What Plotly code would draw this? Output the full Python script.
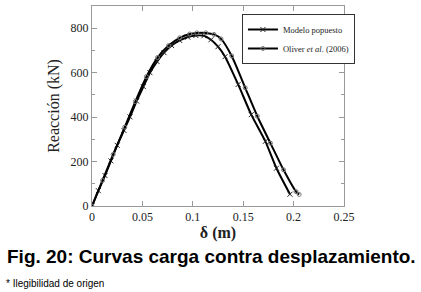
import plotly.graph_objects as go

# Modelo propuesto (x markers)
d_modelo = [0, 0.0063, 0.0129, 0.0188, 0.025, 0.0317, 0.0377, 0.0443, 0.051, 0.0575,
            0.0645, 0.0715, 0.079, 0.087, 0.095, 0.103, 0.111, 0.118, 0.125, 0.132,
            0.145, 0.158, 0.172, 0.183, 0.1964]
r_modelo = [0, 69, 137, 203, 273, 340, 401, 472, 537, 600,
            650, 690, 722, 745, 760, 767, 766, 748, 717, 672,
            547, 411, 291, 170, 53]

# Oliver et al. (2006) (circle markers)
d_oliver = [0, 0.0105, 0.021, 0.0325, 0.043, 0.054, 0.065, 0.076, 0.087, 0.097,
            0.104, 0.113, 0.121, 0.128, 0.1386, 0.152, 0.164, 0.177, 0.190, 0.2024, 0.2055]
r_oliver = [0, 115, 232, 355, 470, 582, 668, 722, 757, 774,
            779, 779, 772, 752, 675, 532, 404, 283, 163, 65, 52]

x_ticks = [0, 0.05, 0.1, 0.15, 0.2, 0.25]
x_ticklabels = ["0", "0.05", "0.1", "0.15", "0.2", "0.25"]
y_ticks = [0, 200, 400, 600, 800]

serif = "Liberation Serif, Times New Roman, serif"
sans = "Liberation Sans, Arial, sans-serif"

fig = go.Figure()
fig.add_trace(go.Scatter(
    x=d_modelo, y=r_modelo, mode="lines+markers", name="Modelo popuesto",
    line=dict(color="black", width=2, shape="spline", smoothing=0.6),
    marker=dict(symbol="x-thin-open", size=5, color="#222",
                line=dict(width=1, color="#222")),
))
fig.add_trace(go.Scatter(
    x=d_oliver, y=r_oliver, mode="lines+markers", name="Oliver <i>et al.</i> (2006)",
    line=dict(color="black", width=2, shape="spline", smoothing=0.6),
    marker=dict(symbol="circle-open", size=4, color="#777",
                line=dict(width=1, color="#777")),
))

axis_common = dict(
    showgrid=False, zeroline=False, showline=True, linecolor="#999", linewidth=1,
    mirror="ticks", ticks="inside", ticklen=5, tickcolor="#999",
    tickfont=dict(family=serif, size=12, color="#222"),
)

fig.update_xaxes(range=[0, 0.25], tickvals=x_ticks, ticktext=x_ticklabels,
                 title=dict(text="<b>δ (m)</b>", font=dict(family=serif, size=16, color="#222"),
                            standoff=2),
                 **axis_common)
fig.update_yaxes(range=[0, 900], tickvals=y_ticks,
                 minor=dict(dtick=100, ticks="inside", ticklen=3, tickcolor="#999"),
                 title=dict(text="Reacción (kN)", font=dict(family=serif, size=16, color="#222"),
                            standoff=6),
                 **axis_common)

fig.update_layout(
    width=421, height=292,
    margin=dict(l=92, r=77, t=6, b=86),
    paper_bgcolor="white", plot_bgcolor="white",
    showlegend=True,
    legend=dict(x=0.595, y=0.96, xanchor="left", yanchor="top",
                bordercolor="#333", borderwidth=1, bgcolor="white",
                font=dict(family=serif, size=8.5, color="#222"),
                itemwidth=30, tracegroupgap=0),
    annotations=[
        dict(text="<b>Fig. 20: Curvas carga contra desplazamiento.</b>",
             xref="paper", yref="paper", x=-0.345, y=-0.25,
             xanchor="left", yanchor="middle", showarrow=False,
             font=dict(family=sans, size=19, color="black")),
        dict(text="* Ilegibilidad de origen",
             xref="paper", yref="paper", x=-0.35, y=-0.385,
             xanchor="left", yanchor="middle", showarrow=False,
             font=dict(family=sans, size=10, color="black")),
    ],
)

fig.write_html("out.html", config={"displayModeBar": False},
               post_script="document.body.style.margin='0';document.body.style.padding='0';")
